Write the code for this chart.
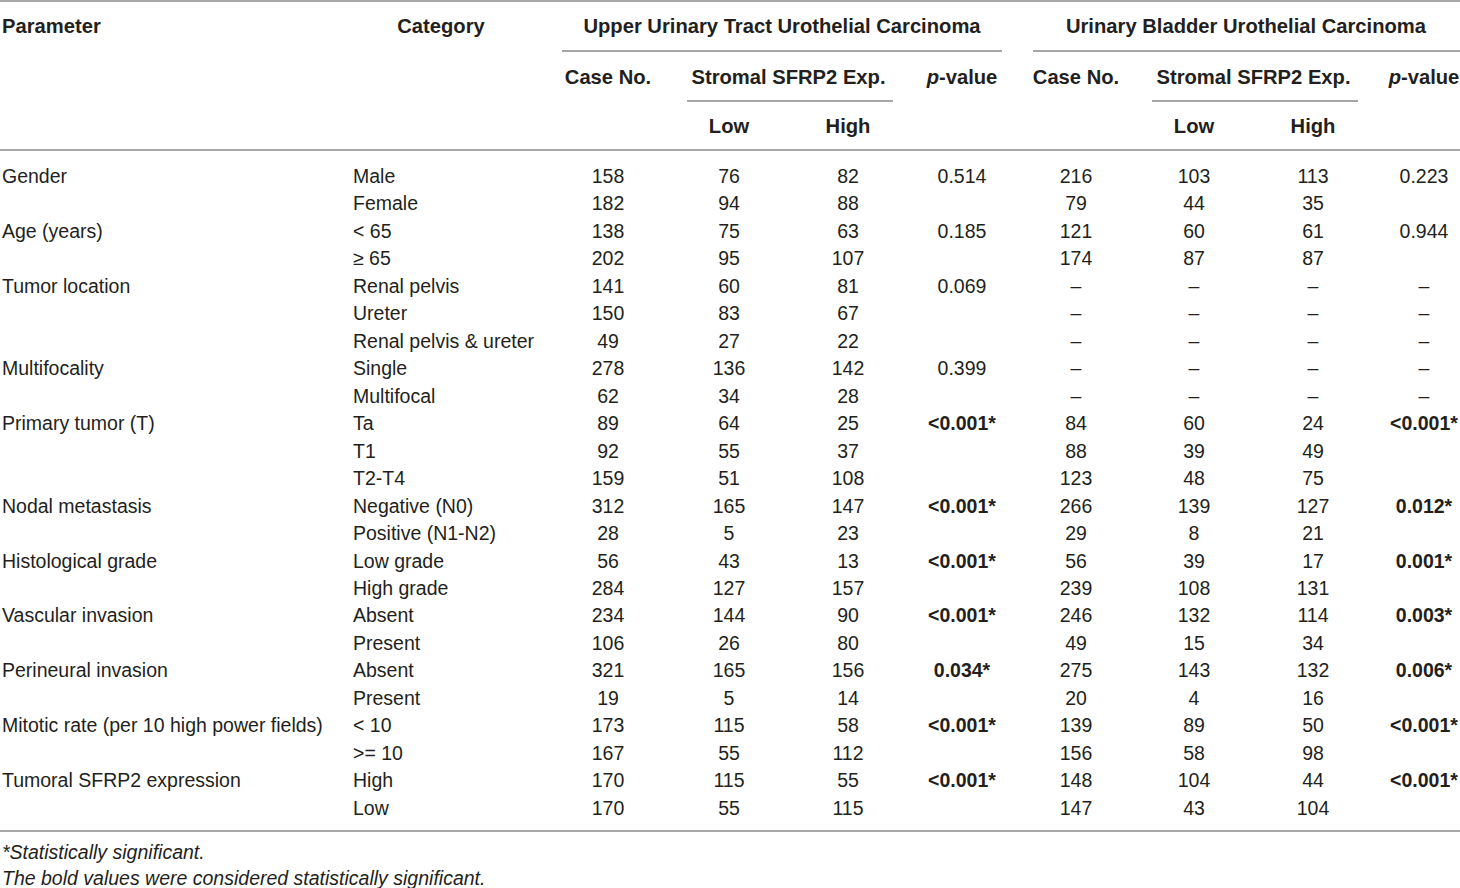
<!DOCTYPE html>
<html>
<head>
<meta charset="utf-8">
<script src="https://cdn.jsdelivr.net/npm/d3@7"></script>
<style>
  html, body { margin: 0; padding: 0; background: #fff; }
  svg { display: block; font-family: "Liberation Sans", Arial, Helvetica, sans-serif; }
</style>
</head>
<body>
<div id="table"></div>
<script>
// parameter label shown on first row of each group
const parameters = [
  'Gender', '', 'Age (years)', '', 'Tumor location', '', '', 'Multifocality', '',
  'Primary tumor (T)', '', '', 'Nodal metastasis', '', 'Histological grade', '',
  'Vascular invasion', '', 'Perineural invasion', '',
  'Mitotic rate (per 10 high power fields)', '', 'Tumoral SFRP2 expression', ''
]
const categories = [
  'Male', 'Female', '< 65', '\u2265 65', 'Renal pelvis', 'Ureter', 'Renal pelvis & ureter',
  'Single', 'Multifocal', 'Ta', 'T1', 'T2-T4', 'Negative (N0)', 'Positive (N1-N2)',
  'Low grade', 'High grade', 'Absent', 'Present', 'Absent', 'Present', '< 10', '>= 10',
  'High', 'Low'
]
// Upper urinary tract urothelial carcinoma
const utucCase = [158, 182, 138, 202, 141, 150, 49, 278, 62, 89, 92, 159, 312, 28, 56, 284, 234, 106, 321, 19, 173, 167, 170, 170]
const utucLow = [76, 94, 75, 95, 60, 83, 27, 136, 34, 64, 55, 51, 165, 5, 43, 127, 144, 26, 165, 5, 115, 55, 115, 55]
const utucHigh = [82, 88, 63, 107, 81, 67, 22, 142, 28, 25, 37, 108, 147, 23, 13, 157, 90, 80, 156, 14, 58, 112, 55, 115]
const utucP = ['0.514', '', '0.185', '', '0.069', '', '', '0.399', '', '<0.001*', '', '', '<0.001*', '', '<0.001*', '', '<0.001*', '', '0.034*', '', '<0.001*', '', '<0.001*', '']
// Urinary bladder urothelial carcinoma (null = not applicable)
const ubucCase = [216, 79, 121, 174, null, null, null, null, null, 84, 88, 123, 266, 29, 56, 239, 246, 49, 275, 20, 139, 156, 148, 147]
const ubucLow = [103, 44, 60, 87, null, null, null, null, null, 60, 39, 48, 139, 8, 39, 108, 132, 15, 143, 4, 89, 58, 104, 43]
const ubucHigh = [113, 35, 61, 87, null, null, null, null, null, 24, 49, 75, 127, 21, 17, 131, 114, 34, 132, 16, 50, 98, 44, 104]
const ubucP = ['0.223', '', '0.944', '', null, null, null, null, null, '<0.001*', '', '', '0.012*', '', '0.001*', '', '0.003*', '', '0.006*', '', '<0.001*', '', '<0.001*', '']

const groupTitles = ['Upper Urinary Tract Urothelial Carcinoma', 'Urinary Bladder Urothelial Carcinoma']
const footnotes = ['*Statistically significant.', 'The bold values were considered statistically significant.']

const width = 1460
const height = 888
const fontSize = 19.5
const headSize = 20.2
const textColor = '#231f20'
const ruleColor = '#a7a7a7'

const svg = d3
  .select('#table')
  .append('svg')
  .attr('width', width)
  .attr('height', height)

// row positions
const yRow = d3
  .scalePoint()
  .domain(d3.range(categories.length))
  .range([176, 808])

// column centres
const colX = {
  caseA: 608, lowA: 729, highA: 848, pA: 962,
  caseB: 1076, lowB: 1194, highB: 1313, pB: 1424
}

function rule (x1, x2, y) {
  svg.append('line')
    .attr('x1', x1).attr('x2', x2)
    .attr('y1', y).attr('y2', y)
    .attr('stroke', ruleColor)
    .attr('stroke-width', 2)
}

function label (txt, x, y, anchor, weight, style, size) {
  return svg.append('text')
    .attr('x', x)
    .attr('y', y)
    .attr('dy', '0.35em')
    .attr('text-anchor', anchor || 'start')
    .attr('font-size', size || fontSize)
    .attr('font-weight', weight || 'normal')
    .attr('font-style', style || 'normal')
    .attr('fill', textColor)
    .text(txt)
}

// rules
rule(0, width, 1)
rule(562, 1002, 51)
rule(1033, width, 51)
rule(687, 893, 101)
rule(1152, 1358, 101)
rule(0, width, 150)
rule(0, width, 831)

// header
label('Parameter', 2, 26, 'start', 'bold', null, headSize)
label('Category', 441, 26, 'middle', 'bold', null, headSize)
label(groupTitles[0], 782, 26, 'middle', 'bold', null, headSize)
label(groupTitles[1], 1246, 26, 'middle', 'bold', null, headSize)

;['A', 'B'].forEach(g => {
  label('Case No.', colX['case' + g], 77, 'middle', 'bold', null, headSize)
  label('Stromal SFRP2 Exp.', (colX['low' + g] + colX['high' + g]) / 2, 77, 'middle', 'bold', null, headSize)
  const p = label('', colX['p' + g], 77, 'middle', 'bold', null, headSize)
  p.append('tspan').attr('font-style', 'italic').text('p')
  p.append('tspan').text('-value')
  label('Low', colX['low' + g], 126, 'middle', 'bold', null, headSize)
  label('High', colX['high' + g], 126, 'middle', 'bold', null, headSize)
})

// body
const fmt = v => (v === null ? '\u2013' : String(v))
const columns = [
  { key: 'caseA', values: utucCase },
  { key: 'lowA', values: utucLow },
  { key: 'highA', values: utucHigh },
  { key: 'pA', values: utucP },
  { key: 'caseB', values: ubucCase },
  { key: 'lowB', values: ubucLow },
  { key: 'highB', values: ubucHigh },
  { key: 'pB', values: ubucP }
]

svg.selectAll('.param')
  .data(parameters)
  .enter()
  .append('text')
  .attr('class', 'param')
  .attr('x', 2)
  .attr('y', (d, i) => yRow(i))
  .attr('dy', '0.35em')
  .attr('font-size', fontSize)
  .attr('fill', textColor)
  .text(d => d)

svg.selectAll('.cat')
  .data(categories)
  .enter()
  .append('text')
  .attr('class', 'cat')
  .attr('x', 353)
  .attr('y', (d, i) => yRow(i))
  .attr('dy', '0.35em')
  .attr('font-size', fontSize)
  .attr('fill', textColor)
  .text(d => d)

columns.forEach(col => {
  svg.selectAll('.c-' + col.key)
    .data(col.values)
    .enter()
    .append('text')
    .attr('class', 'c-' + col.key)
    .attr('x', colX[col.key])
    .attr('y', (d, i) => yRow(i))
    .attr('dy', '0.35em')
    .attr('text-anchor', 'middle')
    .attr('font-size', fontSize)
    .attr('font-weight', d => (typeof d === 'string' && d.includes('*') ? 'bold' : 'normal'))
    .attr('fill', textColor)
    .text(d => fmt(d))
})

// footnotes
footnotes.forEach((f, i) => {
  label(f, 2, 852 + i * 26, 'start', 'normal', 'italic')
})
</script>
</body>
</html>
